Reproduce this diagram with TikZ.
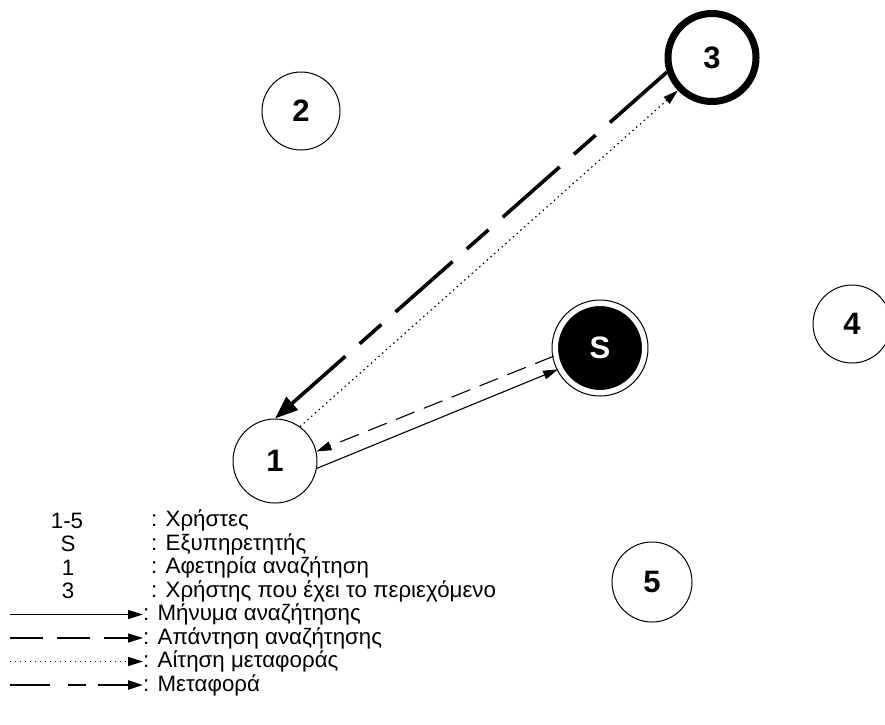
\documentclass[tikz,border=0pt]{standalone}
\usepackage{fontspec}
\setmainfont{Liberation Sans}
\usetikzlibrary{arrows.meta}

\tikzset{
  user/.style={circle, draw, line width=1pt, inner sep=0pt, minimum size=#1,
    font=\fontsize{31}{33}\selectfont\bfseries},
  legendtext/.style={anchor=west, inner sep=0pt, font=\fontsize{22.3}{24}\selectfont},
  legendkey/.style={inner sep=0pt, font=\fontsize{22.3}{24}\selectfont},
  thintip/.style={-{Triangle[length=15pt,width=9pt]}},
  search/.style={thintip, line width=1.1pt},
  reply/.style={thintip, line width=1.1pt, dash pattern=on 20pt off 10pt},
  transferreq/.style={thintip, line width=1.2pt, dash pattern=on 1.4pt off 3.6pt},
  transfer/.style={-{Triangle[length=23pt,width=17pt]}, line width=3.6pt,
    dash pattern=on 76pt off 19pt on 29pt off 19pt},
}

\begin{document}
\begin{tikzpicture}[x=1pt, y=-1pt]
  \useasboundingbox (0,0) rectangle (885,724);

  % users
  \node[user=84pt] (n1) at (275,461) {1};
  \node[user=78pt] (n2) at (301,111) {2};
  \node[user=88pt, line width=7pt] (n3) at (712,57.5) {3};
  \node[user=78pt] (n4) at (852,324) {4};
  \node[user=80pt] (n5) at (652,582) {5};

  % server: black disc with a white ring and a thin outer circle
  \node[circle, fill=black, draw=white, line width=5pt, inner sep=0pt,
        minimum size=89pt, text=white,
        font=\fontsize{31}{33}\selectfont\bfseries] (s) at (600,348) {S};
  \draw[line width=1pt] (s.center) circle (48);

  % messages between the nodes
  \draw[transfer] (n3.198) -- (n1.90);
  \draw[transferreq] (n1.54) -- (n3.224);
  \draw[search] (n1.350) -- (s.207);
  \draw[reply] (s.190) -- (n1.13);

  % legend: keys
  \node[legendkey] (k1) at (67,520.5) {1-5};
  \node[legendkey] (k2) at (68,544) {S};
  \node[legendkey] (k3) at (68,567.5) {1};
  \node[legendkey] (k4) at (68,591) {3};
  \node[legendtext] (t1) at (151,520.5) {: Χρήστες};
  \node[legendtext] (t2) at (151,544) {: Εξυπηρετητής};
  \node[legendtext] (t3) at (151,567.5) {: Αφετηρία αναζήτηση};
  \node[legendtext] (t4) at (151,591) {: Χρήστης που έχει το περιεχόμενο};

  % legend: line styles
  \coordinate (a5) at (10,614.5);
  \coordinate (a6) at (10,638);
  \coordinate (a7) at (10,661.5);
  \coordinate (a8) at (10,685);
  \node[legendtext] (t5) at (143,614.5) {: Μήνυμα αναζήτησης};
  \node[legendtext] (t6) at (143,638) {: Απάντηση αναζήτησης};
  \node[legendtext] (t7) at (143,661.5) {: Αίτηση μεταφοράς};
  \node[legendtext] (t8) at (143,685) {: Μεταφορά};
  \draw[search] (a5) -- (t5.west);
  \draw[thintip, line width=1.1pt, dash pattern=on 33pt off 14pt] (a6) -- (t6.west);
  \draw[transferreq] (a7) -- (t7.west);
  \draw[thintip, line width=2.4pt, dash pattern=on 40pt off 18pt on 18pt off 12pt] (a8) -- (t8.west);
\end{tikzpicture}
\end{document}
